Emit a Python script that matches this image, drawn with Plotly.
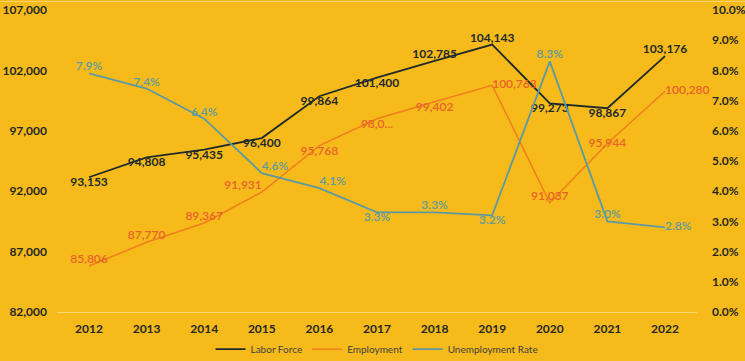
import plotly.graph_objects as go

years = ["2012", "2013", "2014", "2015", "2016", "2017", "2018", "2019", "2020", "2021", "2022"]
labor_force = [93153, 94808, 95435, 96400, 99864, 101400, 102785, 104143, 99273, 98867, 103176]
employment = [85806, 87770, 89367, 91931, 95768, 98000, 99402, 100763, 91037, 95944, 100280]
unemployment = [0.079, 0.074, 0.064, 0.046, 0.041, 0.033, 0.033, 0.032, 0.083, 0.030, 0.028]
left_ticks = [82000, 87000, 92000, 97000, 102000, 107000]
right_ticks = [0.0, 0.01, 0.02, 0.03, 0.04, 0.05, 0.06, 0.07, 0.08, 0.09, 0.10]

lf_text = [f"<b>{v:,}</b>" for v in labor_force]
emp_text = [f"{v:,}" for v in employment]
emp_text[5] = "98,0..."
ur_text = [f"{v*100:.1f}%" for v in unemployment]

lf_pos = ["bottom center", "bottom center", "bottom center", "bottom center", "bottom center",
          "bottom center", "top center", "top center", "bottom center", "bottom center", "top center"]
emp_pos = ["top center", "top center", "top center", "top left", "bottom center", "bottom center",
           "bottom center", "middle right", "top center", "middle center", "middle right"]
ur_pos = ["top center", "top center", "top center", "top right", "top right", "bottom center",
          "top center", "bottom center", "top center", "top center", "middle right"]

BG = "#F6BB1A"
FONT = "Lato, 'Open Sans', sans-serif"
LF_C = "#1E2A2C"
EMP_C = "#F07D1E"
EMP_T = "#E8622A"
UR_C = "#5B9AA4"
UR_T = "#5E9A9E"
TICK = dict(size=12, family=FONT, color="#262626", weight="bold")

fig = go.Figure()
fig.add_trace(go.Scatter(
    x=years, y=labor_force, name="Labor Force", mode="lines+text",
    line=dict(color=LF_C, width=1.8), text=lf_text, textposition=lf_pos,
    textfont=dict(color=LF_C, size=12, family=FONT), cliponaxis=False))
fig.add_trace(go.Scatter(
    x=years, y=employment, name="Employment", mode="lines+text",
    line=dict(color=EMP_C, width=1.5), text=emp_text, textposition=emp_pos,
    textfont=dict(color=EMP_T, size=12, family=FONT, weight=600), cliponaxis=False))
fig.add_trace(go.Scatter(
    x=years, y=unemployment, name="Unemployment Rate", mode="lines+text",
    line=dict(color=UR_C, width=1.8), text=ur_text, textposition=ur_pos,
    textfont=dict(color=UR_T, size=12, family=FONT, weight=600), cliponaxis=False, yaxis="y2"))

fig.update_layout(
    width=745, height=361,
    paper_bgcolor=BG, plot_bgcolor=BG,
    margin=dict(l=57, r=48, t=10, b=49, autoexpand=False),
    font=dict(family=FONT, color="#262626"),
    xaxis=dict(type="category", showgrid=False, showline=True, linecolor="#F8D472", linewidth=1,
               tickfont=TICK, ticks="", zeroline=False, ticklabelstandoff=6),
    yaxis=dict(range=[82000, 107000], tickmode="array", tickvals=left_ticks, tickformat=",",
               showgrid=False, zeroline=False, tickfont=TICK, ticks="", ticklabelstandoff=9),
    yaxis2=dict(range=[0, 0.10], tickmode="array", tickvals=right_ticks, tickformat=".1%",
                overlaying="y", side="right", showgrid=False, zeroline=False,
                tickfont=TICK, ticks="", ticklabelstandoff=14),
    legend=dict(orientation="h", x=0.5, xanchor="center", y=-0.075, yanchor="top",
                font=dict(size=10, family=FONT, color="#404040"), bgcolor="rgba(0,0,0,0)",
                itemwidth=30),
    showlegend=True,
)
fig.add_shape(type="line", xref="paper", yref="paper", x0=-0.1, x1=1.1, y0=1.028, y1=1.028,
              line=dict(color="#F8D472", width=1))

fig.write_html("out.html", config={"displayModeBar": False},
               post_script="document.body.style.margin='0';document.body.style.overflow='hidden';")
